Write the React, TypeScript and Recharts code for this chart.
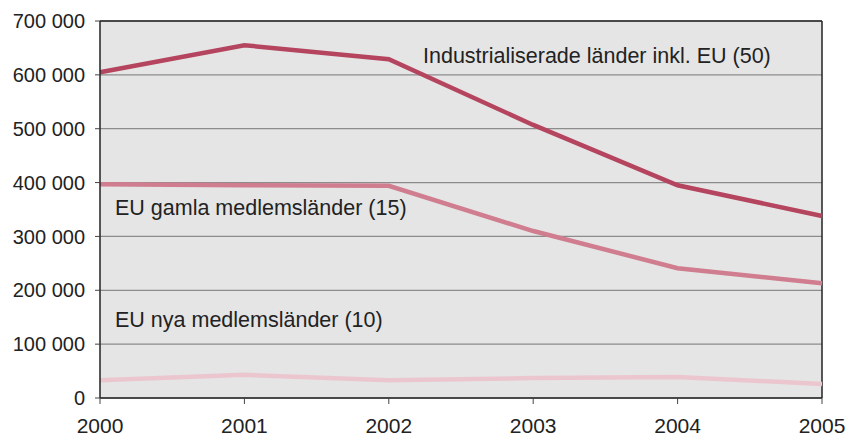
import React from 'react'
import { LineChart, Line, XAxis, YAxis, CartesianGrid, ReferenceLine } from 'recharts'

const years = ['2000', '2001', '2002', '2003', '2004', '2005']
const industri = [605000, 655000, 629000, 507000, 395000, 338000]
const euGamla = [397000, 395000, 394000, 310000, 241000, 213000]
const euNya = [33000, 43000, 33000, 37000, 39000, 26000]
const yTicks = [0, 100000, 200000, 300000, 400000, 500000, 600000, 700000]

const data = years.map((y, i) => ({
  year: y,
  industri: industri[i],
  euGamla: euGamla[i],
  euNya: euNya[i],
}))

const fmt = (v: number) => (v === 0 ? '0' : `${Math.round(v / 1000)} 000`)

const font = 'Arial, "Liberation Sans", sans-serif'
const labelStyle: React.CSSProperties = {
  position: 'absolute',
  fontFamily: font,
  fontSize: 21.5,
  color: '#222',
  whiteSpace: 'nowrap',
  lineHeight: '24px',
}

export default function App() {
  return (
    <div style={{ position: 'absolute', left: 0, top: 0, width: 847, height: 439, background: '#fff' }}>
      <LineChart width={847} height={439} data={data} margin={{ top: 21, right: 25, left: 0, bottom: 0 }}>
        <CartesianGrid vertical={false} fill="#e5e5e5" stroke="#8c8c8c" strokeWidth={1.2} />
        <XAxis
          dataKey="year"
          height={41}
          tickSize={6}
          tickMargin={14}
          axisLine={{ stroke: '#222', strokeWidth: 1.5 }}
          tickLine={{ stroke: '#444' }}
          tick={{ fill: '#222', fontSize: 21, fontFamily: font }}
        />
        <YAxis
          width={100}
          domain={[0, 700000]}
          ticks={yTicks}
          tickFormatter={fmt}
          tickSize={5}
          tickMargin={10}
          axisLine={{ stroke: '#222', strokeWidth: 1.5 }}
          tickLine={{ stroke: '#444' }}
          tick={{ fill: '#222', fontSize: 20, fontFamily: font }}
        />
        <ReferenceLine y={700000} stroke="#222" strokeWidth={1.5} />
        <ReferenceLine x="2005" stroke="#222" strokeWidth={1.5} />
        <Line dataKey="euNya" stroke="#ecc6cf" strokeWidth={4.5} dot={false} isAnimationActive={false} />
        <Line dataKey="euGamla" stroke="#cf7d8f" strokeWidth={4.5} dot={false} isAnimationActive={false} />
        <Line dataKey="industri" stroke="#b5445f" strokeWidth={4.5} dot={false} isAnimationActive={false} />
      </LineChart>
      <div style={{ ...labelStyle, left: 423, top: 44 }}>Industrialiserade länder inkl. EU (50)</div>
      <div style={{ ...labelStyle, left: 115, top: 196 }}>EU gamla medlemsländer (15)</div>
      <div style={{ ...labelStyle, left: 115, top: 308 }}>EU nya medlemsländer (10)</div>
    </div>
  )
}
